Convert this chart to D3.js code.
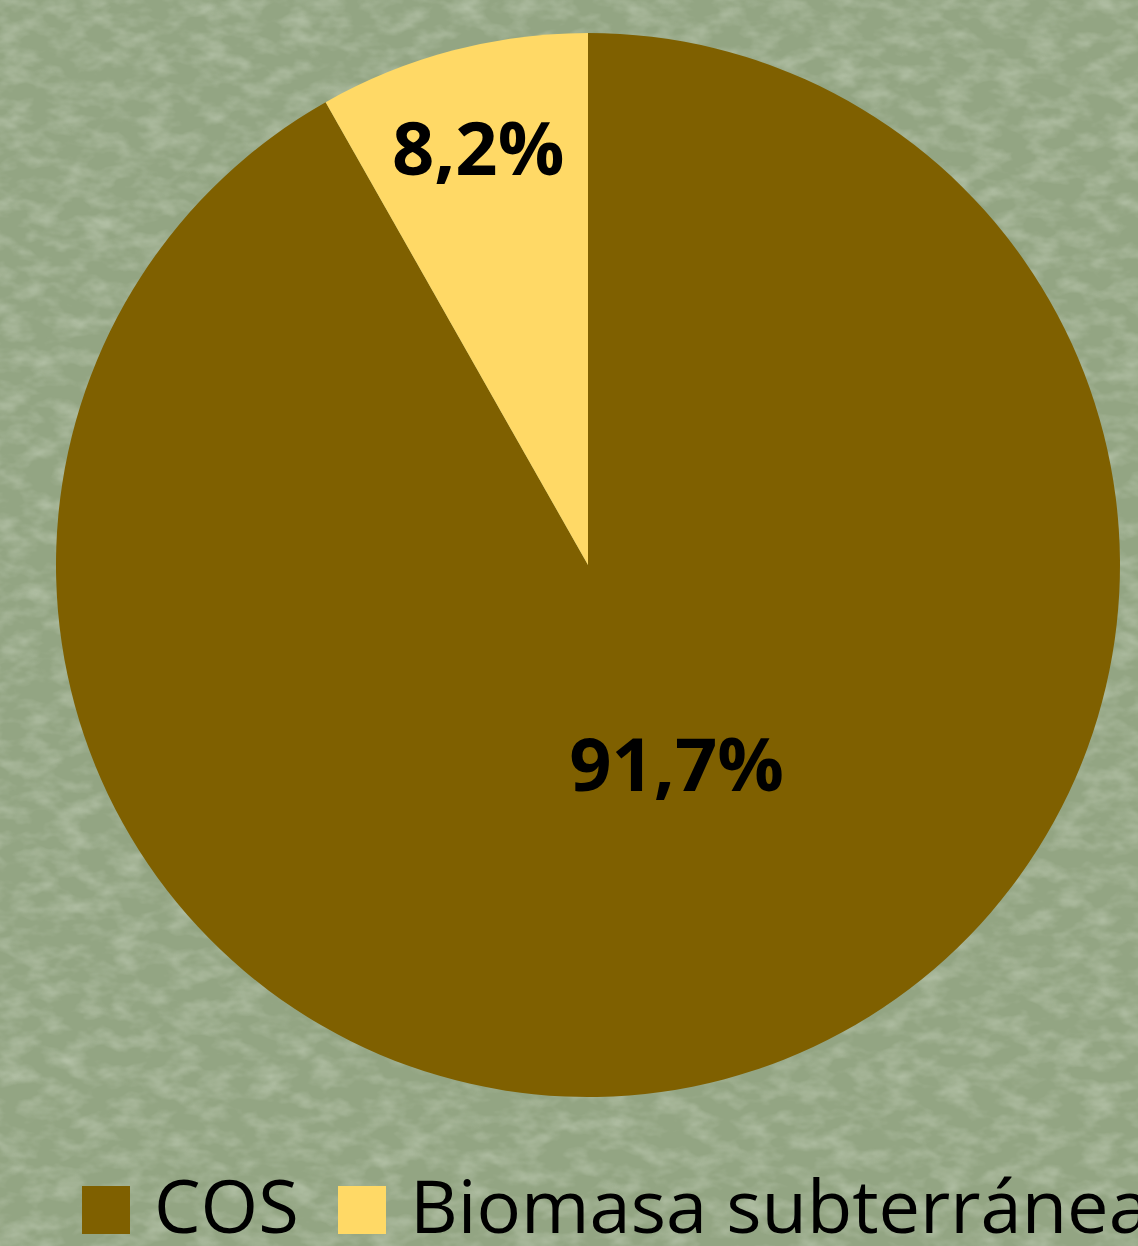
<!DOCTYPE html>
<html>
<head>
<meta charset="utf-8">
<script src="https://cdn.jsdelivr.net/npm/d3@7"></script>
<style>
  html, body { margin: 0; padding: 0; overflow: hidden; }
  body { width: 1138px; height: 1246px; }
</style>
</head>
<body>
<div id="chart"></div>
<script>
// categories and values
var categories = ["COS", "Biomasa subterránea"];
var values = [91.7, 8.2];
var labels = ["91,7%", "8,2%"];
var colors = ["#7f6000", "#ffd966"];

var width = 1138, height = 1246;
var cx = 588, cy = 565, radius = 532;

var svg = d3.select("#chart").append("svg")
    .attr("width", width)
    .attr("height", height);

// textured green background (approximation of the slide paper)
var defs = svg.append("defs");
var f = defs.append("filter").attr("id", "tex")
    .attr("x", 0).attr("y", 0).attr("width", "100%").attr("height", "100%");
f.append("feTurbulence")
    .attr("type", "fractalNoise")
    .attr("baseFrequency", "0.035 0.06")
    .attr("numOctaves", 3)
    .attr("seed", 7)
    .attr("result", "noise");
f.append("feColorMatrix")
    .attr("in", "noise")
    .attr("type", "matrix")
    .attr("values", "0 0 0 0 0.93  0 0 0 0 0.97  0 0 0 0 0.88  1.1 0 0 0 -0.45");

svg.append("rect").attr("width", width).attr("height", height).attr("fill", "#93a583");
svg.append("rect").attr("width", width).attr("height", height)
    .attr("fill", "#fff").attr("filter", "url(#tex)").attr("opacity", 0.55);

var data = categories.map(function(c, i) {
  return {name: c, value: values[i], label: labels[i], color: colors[i]};
});

var pie = d3.pie().sort(null).value(function(d) { return d.value; });
var arc = d3.arc().innerRadius(0).outerRadius(radius);

var g = svg.append("g").attr("transform", "translate(" + cx + "," + cy + ")");

var arcs = pie(data);

g.selectAll("path.slice")
    .data(arcs)
  .enter().append("path")
    .attr("class", "slice")
    .attr("d", arc)
    .attr("fill", function(d) { return d.data.color; });

// label placement: fraction of radius, and small angular nudge (Excel best fit)
var labelR = [0.41, 0.81];
var labelNudge = [-0.16, 0];

g.selectAll("text.lbl")
    .data(arcs)
  .enter().append("text")
    .attr("class", "lbl")
    .attr("transform", function(d, i) {
      var a = (d.startAngle + d.endAngle) / 2 + labelNudge[i];
      var r = radius * labelR[i];
      return "translate(" + (r * Math.sin(a)) + "," + (-r * Math.cos(a)) + ")";
    })
    .attr("text-anchor", "middle")
    .attr("dy", "0.36em")
    .style("font-family", "'Open Sans', sans-serif")
    .style("font-weight", "bold")
    .style("font-size", "74px")
    .attr("fill", "#000")
    .text(function(d) { return d.data.label; });

// legend
var legendX = [82, 338];
var legend = svg.append("g").attr("class", "legend");
var items = legend.selectAll("g").data(data).enter().append("g")
    .attr("transform", function(d, i) { return "translate(" + legendX[i] + ",1186)"; });
items.append("rect")
    .attr("width", 48).attr("height", 48)
    .attr("fill", function(d) { return d.color; });
items.append("text")
    .attr("x", 72).attr("y", 47)
    .style("font-family", "'Open Sans', sans-serif")
    .style("font-size", "74px")
    .attr("fill", "#000")
    .text(function(d) { return d.name; });
</script>
</body>
</html>
